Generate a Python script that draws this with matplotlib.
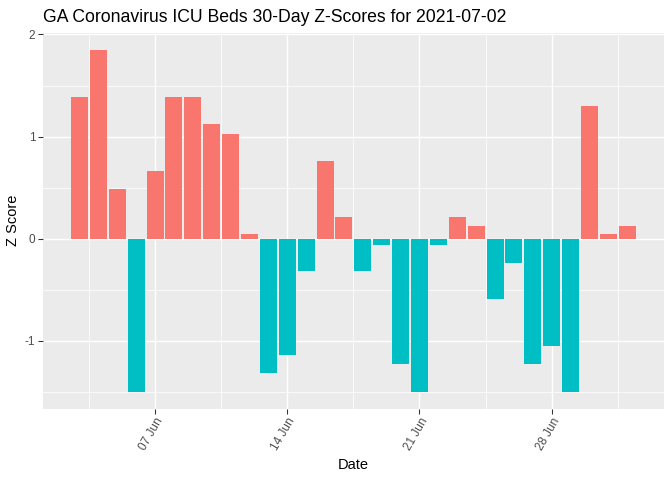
import matplotlib
matplotlib.use("Agg")
import matplotlib.pyplot as plt
import matplotlib.dates as mdates
import numpy as np
import datetime as dt

plt.rcParams['axes.unicode_minus'] = False
plt.rcParams['font.family'] = ['Liberation Sans', 'DejaVu Sans']

dates = [dt.date(2021, 6, 3) + dt.timedelta(days=i) for i in range(30)]
zscores = [1.39, 1.85, 0.49, -1.50, 0.665, 1.39, 1.39, 1.12, 1.025, 0.04,
           -1.315, -1.14, -0.32, 0.76, 0.215, -0.32, -0.06, -1.23, -1.50, -0.06,
           0.215, 0.127, -0.595, -0.235, -1.23, -1.055, -1.50, 1.30, 0.04, 0.127]
tick_dates = [dt.date(2021, 6, 7), dt.date(2021, 6, 14), dt.date(2021, 6, 21), dt.date(2021, 6, 28)]
tick_labels = ["07 Jun", "14 Jun", "21 Jun", "28 Jun"]
title = "GA Coronavirus ICU Beds 30-Day Z-Scores for 2021-07-02"

pos_col = "#F8766D"
neg_col = "#00BFC4"

fig = plt.figure(figsize=(7, 5), dpi=96)
W, H = 672, 480
left, right, top, bottom = 42.7, 664, 32.7, 408.7
ax = fig.add_axes([left / W, 1 - bottom / H, (right - left) / W, (bottom - top) / H])

x = mdates.date2num(dates)
colors = [pos_col if v > 0 else neg_col for v in zscores]
ax.bar(x, zscores, width=0.9, color=colors, zorder=3)

ax.set_facecolor("#EBEBEB")
xmin = x[0] - 0.45
xmax = x[-1] + 0.45
xr = xmax - xmin
ax.set_xlim(xmin - 0.05 * xr, xmax + 0.05 * xr)
ymin, ymax = min(zscores), max(zscores)
yr = ymax - ymin
ax.set_ylim(ymin - 0.05 * yr, ymax + 0.05 * yr)

tx = mdates.date2num(tick_dates)
ax.set_xticks(tx)
ax.set_xticklabels(tick_labels, rotation=60, ha='right', va='top', rotation_mode='anchor',
                   fontsize=8.8, color='#4D4D4D')
minor_x = list(tx - 3.5) + [tx[-1] + 3.5]
ax.set_xticks(minor_x, minor=True)
ax.set_yticks([-1, 0, 1, 2])
ax.set_yticklabels(["-1", "0", "1", "2"], fontsize=8.8, color='#4D4D4D')
ax.set_yticks([-1.5, -0.5, 0.5, 1.5], minor=True)

ax.grid(which='major', color='white', linewidth=1.1, zorder=0)
ax.grid(which='minor', color='white', linewidth=0.55, zorder=0)
ax.set_axisbelow(True)
for s in ax.spines.values():
    s.set_visible(False)
ax.tick_params(which='major', length=3.5, width=0.8, color='#333333', pad=2)
ax.tick_params(which='minor', length=0)

ax.set_xlabel("Date", fontsize=11, labelpad=4)
ax.set_ylabel("Z Score", fontsize=11, labelpad=4)
fig.text(left / W, 1 - 17 / H, title, fontsize=13.2, ha='left', va='center')

fig.savefig("out.png", dpi=96)
